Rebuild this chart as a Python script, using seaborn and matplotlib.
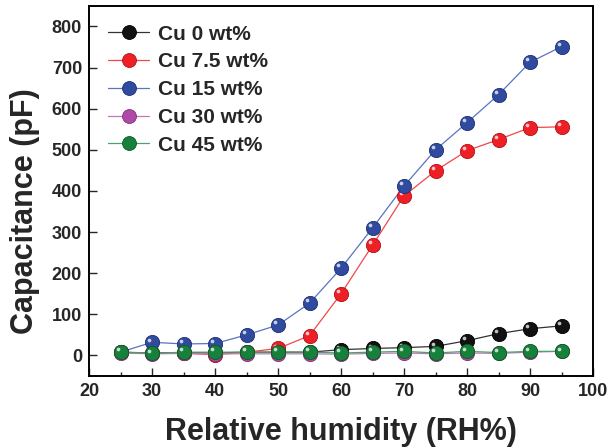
import numpy as np
import pandas as pd
import matplotlib
matplotlib.use("Agg")
import matplotlib.pyplot as plt
import matplotlib.transforms as mtransforms
from matplotlib.lines import Line2D
from matplotlib.ticker import MultipleLocator
import seaborn as sns

# -----------------------------
# Data
# -----------------------------
rh = [25, 30, 35, 40, 45, 50, 55, 60, 65, 70, 75, 80, 85, 90, 95]

cu_0 = [8, 6, 7, 6, 8, 8, 8, 14, 17, 19, 22, 36, 53, 65, 72]
cu_7_5 = [8, 5, 5, 2, 8, 17, 48, 150, 268, 388, 449, 498, 525, 554, 556]
cu_15 = [8, 32, 28, 29, 50, 74, 127, 212, 310, 412, 500, 566, 634, 713, 751]
cu_30 = [6, 4, 5, 4, 4, 4, 4, 3, 5, 6, 4, 6, 5, 8, 10]
cu_45 = [8, 5, 8, 8, 8, 8, 8, 6, 8, 10, 6, 10, 7, 10, 10]

labels = ["Cu 0 wt%", "Cu 7.5 wt%", "Cu 15 wt%", "Cu 30 wt%", "Cu 45 wt%"]
series = [cu_0, cu_7_5, cu_15, cu_30, cu_45]

marker_colors = ["#111111", "#ee2026", "#2f4a9f", "#b04aa8", "#17803a"]
line_colors = ["#333333", "#f0474c", "#5a74c0", "#c477b8", "#4aa36a"]
edge_colors = ["#000000", "#b01018", "#1c2f70", "#80307a", "#0c5a26"]

df = pd.DataFrame({"RH": rh * len(series),
                   "C": sum(series, []),
                   "sample": np.repeat(labels, len(rh))})

# -----------------------------
# Figure
# -----------------------------
sns.set_style("ticks")
plt.rcParams["font.family"] = ["Liberation Sans", "DejaVu Sans"]
plt.rcParams["font.weight"] = "bold"

fig = plt.figure(figsize=(6.16, 4.47), dpi=100)
ax = fig.add_axes([0.1445, 0.1588, 0.8182, 0.828])

offset = mtransforms.ScaledTranslation(-2 / 72, 2 / 72, fig.dpi_scale_trans)
for lab, lc, mc, ec in zip(labels, line_colors, marker_colors, edge_colors):
    sub = df[df["sample"] == lab]
    sns.lineplot(data=sub, x="RH", y="C", color=lc, linewidth=0.9, ax=ax,
                 legend=False, zorder=2)
    sns.scatterplot(data=sub, x="RH", y="C", color=mc, s=105, edgecolor=ec,
                    linewidth=0.6, ax=ax, legend=False, zorder=3)
    # small glossy highlight on each sphere
    sns.scatterplot(data=sub, x="RH", y="C", color="white", s=7, alpha=0.75,
                    linewidth=0, ax=ax, legend=False, zorder=3)
    ax.collections[-1].set_offset_transform(ax.transData + offset)

ax.set_xlim(20, 100)
ax.set_ylim(-50, 850)
ax.set_xticks(np.arange(20, 101, 10))
ax.xaxis.set_minor_locator(MultipleLocator(5))
ax.set_yticks(np.arange(0, 801, 100))

ax.tick_params(axis="both", which="major", direction="in", length=5.5,
               width=1.0, labelsize=13, pad=5)
ax.tick_params(axis="x", which="minor", direction="in", length=3, width=1.0)
plt.setp(ax.get_xticklabels(), fontweight="bold")
plt.setp(ax.get_yticklabels(), fontweight="bold")
for sp in ax.spines.values():
    sp.set_visible(True)
    sp.set_linewidth(1.4)
    sp.set_color("black")

ax.set_xlabel("Relative humidity (RH%)", fontsize=22, fontweight="bold", labelpad=12)
ax.set_ylabel("Capacitance (pF)", fontsize=22, fontweight="bold")
ax.yaxis.set_label_coords(-0.097, 0.445)

handles = [Line2D([0], [0], color=lc, linewidth=0.9, marker="o", markersize=10,
                  markerfacecolor=mc, markeredgecolor=ec, markeredgewidth=0.6)
           for lc, mc, ec in zip(line_colors, marker_colors, edge_colors)]
ax.legend(handles, labels, loc="upper left", bbox_to_anchor=(0.0, 1.0),
          frameon=False, handlelength=2.0, handletextpad=0.4,
          labelspacing=0.42, prop={"weight": "bold", "size": 15})

fig.savefig("out.png", dpi=100)
